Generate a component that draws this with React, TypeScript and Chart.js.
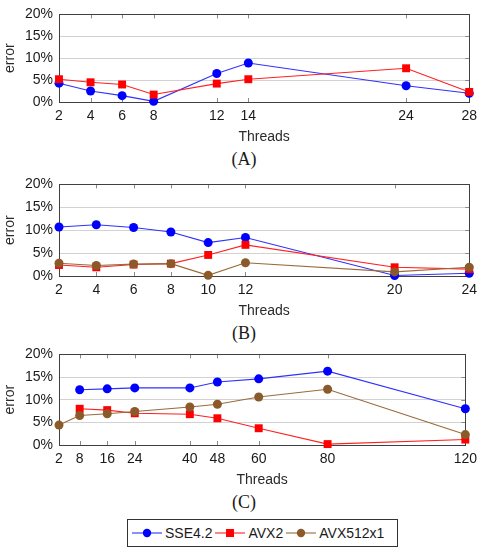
import React, { useEffect, useRef } from 'react';
import { Chart, registerables } from 'chart.js';

Chart.register(...registerables);

// ---- data ----
const threadsA = [2, 4, 6, 8, 12, 14, 24, 28];
const sseA = [4.3, 2.5, 1.45, 0.15, 6.5, 8.9, 3.7, 2.0];
const avx2A = [5.2, 4.5, 4.0, 1.7, 4.2, 5.2, 7.7, 2.3];

const threadsB = [2, 4, 6, 8, 10, 12, 20, 24];
const sseB = [10.7, 11.2, 10.6, 9.6, 7.3, 8.4, 0.1, 0.6];
const avx2B = [2.4, 1.9, 2.5, 2.7, 4.6, 6.8, 1.9, 1.5];
const avx512B = [2.8, 2.3, 2.6, 2.7, 0.15, 2.9, 0.9, 1.9];

const threadsC = [2, 8, 16, 24, 40, 48, 60, 80, 120];
const sseC = [null, 12.2, 12.4, 12.6, 12.6, 13.9, 14.6, 16.3, 8.0];
const avx2C = [null, 8.0, 7.7, 7.0, 6.8, 5.9, 3.7, 0.2, 1.2];
const avx512C = [4.4, 6.5, 6.9, 7.4, 8.4, 9.0, 10.6, 12.3, 2.3];

const errorTicks = [0, 5, 10, 15, 20];
const seriesNames = ['SSE4.2', 'AVX2', 'AVX512x1'];

// ---- styles ----
const COLORS = ['#0000ff', '#ff0000', '#8b5a2b'];
const LINE_COLORS = ['#3030ff', '#ff2020', '#9a6a3a'];
const POINT_STYLES = ['circle', 'rect', 'circle'];
const POINT_RADII = [4.5, 5.6, 4.5];
const SANS = "'Liberation Sans', Arial, sans-serif";

const framePlugin = {
  id: 'frame',
  beforeDatasetsDraw(chart: any) {
    const { ctx, chartArea: a, scales } = chart;
    const xs = scales.x;
    const ys = scales.y;
    ctx.save();
    ctx.lineWidth = 1;
    ctx.strokeStyle = '#8a8a8a';
    ctx.beginPath();
    xs.ticks.forEach((t: any) => {
      const px = Math.round(xs.getPixelForValue(t.value)) + 0.5;
      ctx.moveTo(px, a.top);
      ctx.lineTo(px, a.top + 4);
      ctx.moveTo(px, a.bottom);
      ctx.lineTo(px, a.bottom - 4);
    });
    ys.ticks.forEach((t: any) => {
      const py = Math.round(ys.getPixelForValue(t.value)) + 0.5;
      ctx.moveTo(a.right, py);
      ctx.lineTo(a.right - 4, py);
    });
    ctx.stroke();
    ctx.strokeStyle = '#404040';
    ctx.strokeRect(Math.round(a.left) + 0.5, Math.round(a.top) + 0.5, Math.round(a.right - a.left), Math.round(a.bottom - a.top));
    ctx.restore();
  },
};

type Series = { idx: number; values: (number | null)[] };

function SubChart(props: { top: number; height: number; padTop: number; threads: number[]; series: Series[]; xMax: number }) {
  const ref = useRef<HTMLCanvasElement>(null);
  useEffect(() => {
    if (!ref.current) return;
    const { threads, series, xMax, padTop } = props;
    const chart = new Chart(ref.current, {
      type: 'line',
      data: {
        datasets: series.map((s) => ({
          label: seriesNames[s.idx],
          data: threads.map((t, i) => ({ x: t, y: s.values[i] })),
          borderColor: LINE_COLORS[s.idx],
          backgroundColor: COLORS[s.idx],
          pointBackgroundColor: COLORS[s.idx],
          pointBorderColor: COLORS[s.idx],
          pointBorderWidth: 0,
          pointStyle: POINT_STYLES[s.idx] as any,
          pointRadius: POINT_RADII[s.idx],
          borderWidth: 1.1,
          tension: 0,
          clip: false as any,
          order: 3 - s.idx,
          spanGaps: false,
        })),
      },
      options: {
        responsive: false,
        animation: false,
        layout: { padding: { top: padTop, right: 13, left: 0, bottom: 0 } },
        plugins: { legend: { display: false }, tooltip: { enabled: false } },
        scales: {
          x: {
            type: 'linear',
            min: 2,
            max: xMax,
            grid: { display: false, drawTicks: false },
            border: { display: false },
            afterBuildTicks: (s: any) => {
              s.ticks = threads.map((v) => ({ value: v }));
            },
            afterFit: (s: any) => {
              s.height = 44;
            },
            ticks: {
              autoSkip: false,
              maxRotation: 0,
              padding: 6,
              color: '#1a1a1a',
              font: { family: SANS, size: 14 },
              callback: (v: any) => String(v),
            },
            title: {
              display: true,
              text: 'Threads',
              color: '#2a2a2a',
              padding: 0,
              font: { family: SANS, size: 14 },
            },
          },
          y: {
            type: 'linear',
            min: 0,
            max: 20,
            grid: { color: '#d2d2d2', lineWidth: 1, drawTicks: false },
            border: { display: false },
            afterBuildTicks: (s: any) => {
              s.ticks = errorTicks.map((v) => ({ value: v }));
            },
            afterFit: (s: any) => {
              s.width = 59;
            },
            ticks: {
              padding: 6,
              color: '#1a1a1a',
              font: { family: SANS, size: 14 },
              callback: (v: any) => v + '%',
            },
            title: {
              display: true,
              text: 'error',
              color: '#2a2a2a',
              padding: { top: 2, bottom: 0 },
              font: { family: SANS, size: 14 },
            },
          },
        },
      },
      plugins: [framePlugin],
    });
    return () => chart.destroy();
  }, []);
  return (
    <div style={{ position: 'absolute', left: 0, top: props.top, width: 483, height: props.height }}>
      <canvas ref={ref} width={483} height={props.height} style={{ display: 'block' }} />
    </div>
  );
}

function Caption({ top, text }: { top: number; text: string }) {
  return (
    <div
      style={{
        position: 'absolute',
        left: 0,
        top,
        width: 488,
        textAlign: 'center',
        fontFamily: "'Liberation Serif', 'Times New Roman', serif",
        fontSize: 18,
        lineHeight: '20px',
        color: '#1a1a1a',
      }}
    >
      {text}
    </div>
  );
}

function LegendIcon({ idx }: { idx: number }) {
  return (
    <svg width={30} height={12} style={{ display: 'block' }}>
      <line x1={0} y1={6} x2={30} y2={6} stroke={LINE_COLORS[idx]} strokeWidth={1.1} />
      {POINT_STYLES[idx] === 'rect' ? (
        <rect x={11} y={2} width={8} height={8} fill={COLORS[idx]} />
      ) : (
        <circle cx={15} cy={6} r={4.2} fill={COLORS[idx]} />
      )}
    </svg>
  );
}

export default function App() {
  return (
    <div style={{ position: 'absolute', left: 0, top: 0, width: 483, height: 549, background: '#fff', overflow: 'hidden' }}>
      <SubChart
        top={0}
        height={146}
        padTop={9}
        threads={threadsA}
        xMax={28}
        series={[
          { idx: 0, values: sseA },
          { idx: 1, values: avx2A },
        ]}
      />
      <Caption top={149} text="(A)" />
      <SubChart
        top={170}
        height={150}
        padTop={13}
        threads={threadsB}
        xMax={24}
        series={[
          { idx: 0, values: sseB },
          { idx: 1, values: avx2B },
          { idx: 2, values: avx512B },
        ]}
      />
      <Caption top={323} text="(B)" />
      <SubChart
        top={340}
        height={149}
        padTop={13}
        threads={threadsC}
        xMax={120}
        series={[
          { idx: 0, values: sseC },
          { idx: 1, values: avx2C },
          { idx: 2, values: avx512C },
        ]}
      />
      <Caption top={492} text="(C)" />
      <div
        style={{
          position: 'absolute',
          left: 127,
          top: 519,
          width: 271,
          height: 28,
          boxSizing: 'border-box',
          border: '1px solid #333',
          display: 'flex',
          alignItems: 'center',
          paddingLeft: 4,
          fontFamily: SANS,
          fontSize: 14,
          color: '#1a1a1a',
        }}
      >
        {seriesNames.map((n, i) => (
          <div key={n} style={{ display: 'flex', alignItems: 'center', marginRight: 3 }}>
            <LegendIcon idx={i} />
            <span style={{ marginLeft: 3 }}>{n}</span>
          </div>
        ))}
      </div>
    </div>
  );
}
